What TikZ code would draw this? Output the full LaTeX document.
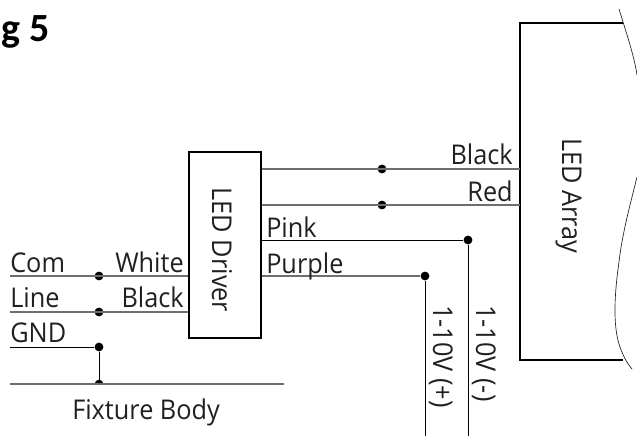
\documentclass[tikz,border=0pt]{standalone}
\usepackage{fontspec}
\setmainfont[FakeStretch=0.93]{Open Sans}
\newfontfamily\headfont{Carlito}
\usepackage{xcolor}
\usetikzlibrary{positioning}
\definecolor{inkdark}{HTML}{231F20}
\definecolor{wiregray}{HTML}{6E6E6E}

\begin{document}
\begin{tikzpicture}[x=0.75pt,y=-0.75pt,
    wirethick/.style={wiregray,line width=1.3pt},
    wirethin/.style={black,line width=0.65pt},
    boxline/.style={black,line width=1.4pt},
    edgeline/.style={inkdark,line width=0.5pt},
    wiredot/.style={circle,fill=black,inner sep=0pt,minimum size=6.6pt},
    wirelabel/.style={inner sep=0pt,text=inkdark,font=\fontsize{20.4}{21}\selectfont},
    sidelabel/.style={wirelabel,rotate=-90,anchor=base west}]
    \useasboundingbox (0,0) rectangle (637,436);

    % Heading
    \node[inner sep=0pt,anchor=base west,font=\headfont\bfseries\fontsize{30}{31}\selectfont] (heading) at (1,41) {g 5};

    % Driver and array
    \node[boxline,draw,fill=white,minimum width=54pt,minimum height=139.5pt,inner sep=0pt] (driver) at (225,245) {};
    \node[sidelabel,anchor=base] (driverlabel) at (212,250) {LED Driver};
    \coordinate (arraytop) at (520,23);
    \coordinate (arraybot) at (520,360);
    \coordinate (arraytopend) at (623,23);
    \coordinate (arraybotend) at (623,360);
    \draw[boxline] (arraytopend) -- (arraytop) -- (arraybot) -- (arraybotend);
    \node[sidelabel] (arraylabel) at (562,138) {LED Array};

    % Torn edge of the array
    \draw[edgeline] (619,9) .. controls (626,32) and (634,55) .. (637,75);
    \draw[edgeline] (637,177) .. controls (630,205) and (622,235) .. (619,262)
        .. controls (615,290) and (612,325) .. (620,347)
        .. controls (623,356) and (627,363) .. (632,369);

    % Dots
    \node[wiredot] (comdot) at (99,276) {};
    \node[wiredot] (linedot) at (99,312) {};
    \node[wiredot] (gnddot) at (99,347) {};
    \node[wiredot] (blackdot) at (382,169) {};
    \node[wiredot] (reddot) at (382,205) {};
    \node[wiredot] (pinkdot) at (468,240) {};
    \node[wiredot] (purpledot) at (425,276) {};

    % Free ends
    \coordinate (leftend) at (10,276);
    \coordinate (bodyleft) at (10,384);
    \coordinate (bodyright) at (284,384);
    \coordinate (bodytap) at (99,384);
    \coordinate (bottomend) at (0,436);

    % Wires on the left
    \draw[wirethick] (leftend) -- (driver.west |- comdot);
    \draw[wirethick] (leftend |- linedot) -- (driver.west |- linedot);
    \draw[wirethin] (leftend |- gnddot) -- (gnddot);
    \draw[wirethin] (gnddot) -- (bodytap);
    \fill[black] (bodytap) ++(-4.3,0) arc[start angle=180,end angle=360,radius=4.3] -- cycle;
    \draw[wirethick] (bodyleft) -- (bodyright);

    % Wires on the right
    \draw[wirethick] (driver.east |- blackdot) -- (arraytop |- blackdot);
    \draw[wirethick] (driver.east |- reddot) -- (arraytop |- reddot);
    \draw[wirethin] (driver.east |- pinkdot) -- (pinkdot);
    \draw[wirethick] (driver.east |- purpledot) -- (purpledot);
    \draw[wirethin] (pinkdot) -- (pinkdot |- bottomend);
    \draw[wirethin] (purpledot) -- (purpledot |- bottomend);

    % Labels
    \node[wirelabel,anchor=base west] (comlabel) at (10,272) {Com};
    \node[wirelabel,anchor=base west] (linelabel) at (10,307) {Line};
    \node[wirelabel,anchor=base west] (gndlabel) at (10,342) {GND};
    \node[wirelabel,anchor=base east] (whitelabel) at (184,272) {White};
    \node[wirelabel,anchor=base east] (blackleft) at (184,307) {Black};
    \node[wirelabel,anchor=base west] (pinklabel) at (266,237) {Pink};
    \node[wirelabel,anchor=base west] (purplelabel) at (266,273) {Purple};
    \node[wirelabel,anchor=base east] (blackright) at (513,164) {Black};
    \node[wirelabel,anchor=base east] (redlabel) at (513,201) {Red};
    \node[wirelabel,anchor=base west] (bodylabel) at (72,419) {Fixture Body};
    \node[sidelabel] (pluslabel) at (433,305) {1-10V (+)};
    \node[sidelabel] (minuslabel) at (476,305) {1-10V (-)};
\end{tikzpicture}
\end{document}
